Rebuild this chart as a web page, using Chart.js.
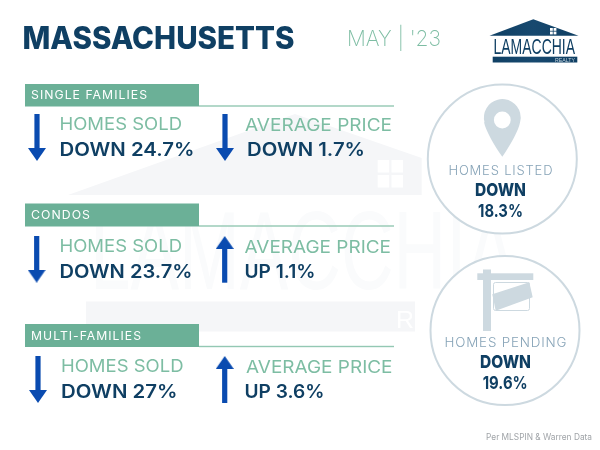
<!DOCTYPE html>
<html><head><meta charset="utf-8">
<style>html,body{margin:0;padding:0;background:#fff;overflow:hidden}canvas{display:block}</style>
<script src="https://cdn.jsdelivr.net/npm/chart.js@4"></script>
</head><body><canvas id="c" width="600" height="450"></canvas>
<script>
// ---- data ----
const title = 'MASSACHUSETTS';
const period = "MAY | '23";
const segments = ['SINGLE FAMILIES', 'CONDOS', 'MULTI-FAMILIES'];
const homesSoldChange = [-24.7, -23.7, -27];
const averagePriceChange = [-1.7, 1.1, 3.6];
const circleLabels = ['HOMES LISTED', 'HOMES PENDING'];
const circleChange = [-18.3, -19.6];
const soldLabel = 'HOMES SOLD';
const priceLabel = 'AVERAGE PRICE';
const sourceNote = 'Per MLSPIN & Warren Data';

// ---- layout (page positions, not data) ----
const NAVY = '#0f3f63', GREEN = '#6bb097', SOFT = '#7dbda3', BLUE = '#0a4bb0', RING = '#cdd9e0', GHOST = '#f5f6f8';
const headerBox = [{t:84,b:106.5},{t:203.5,b:226.5},{t:324,b:347}];
const headerText = [{x:31,w:116,y:99},{x:31,w:59,y:219},{x:31,w:110,y:340}];
const soldArrowX = [37, 36.7, 38], priceArrowX = [225, 224.7, 224.7];
const arrowTop = [114, 236, 356], arrowBot = [161, 282.7, 403];
const soldText = [{x:59.5,w:122.5,y:130},{x:59.5,w:122.5,y:251.7},{x:61,w:122.5,y:371.7}];
const soldVal  = [{x:59.5,w:135,y:156},{x:59.5,w:133,y:277.7},{x:61,w:116.5,y:398.3}];
const priceText= [{x:245,w:147,y:131},{x:244.5,w:146.5,y:252.7},{x:246,w:146.5,y:373.3}];
const priceVal = [{x:247,w:118,y:156},{x:244.5,w:71,y:277.7},{x:244.5,w:80,y:398.3}];
const circles = [{x:502.3,y:159},{x:505,y:330.5}];
const circleTxt = [
  {lab:{x:448.5,w:104,y:175},dir:{x:475,w:51,y:196},val:{x:478,w:45,y:216.7}},
  {lab:{x:444.5,w:122,y:347},dir:{x:480,w:51,y:368.3},val:{x:482.7,w:45,y:389}}
];

function mag(v){ return Math.abs(v) + '%'; }
function dirWord(v){ return v < 0 ? 'DOWN' : 'UP'; }

// arrow head image used as a point style
const head = document.createElement('canvas'); head.width = 18; head.height = 13;
(function(){ const g = head.getContext('2d'); g.fillStyle = BLUE; g.beginPath(); g.moveTo(9,0); g.lineTo(18,13); g.lineTo(0,13); g.closePath(); g.fill(); })();

function arrowDataset(x, v, i){
  const down = v < 0, top = arrowTop[i], bot = arrowBot[i];
  const tipEnd = down ? bot - 6.5 : top + 6.5, tail = down ? top : bot;
  return { type:'line', data:[{x,y:tail},{x,y:tipEnd}], borderColor:BLUE, borderWidth:5.2, borderCapStyle:'butt',
    pointStyle:[false, head], pointRadius:[0,9], pointRotation:[0, down?180:0], clip:false, order:1 };
}
const datasets = [
  { type:'scatter', data:circles, pointStyle:'circle', pointRadius:74.5, pointBackgroundColor:'#fff',
    pointBorderColor:RING, pointBorderWidth:2, clip:false, order:2 }
];
segments.forEach((s,i)=>{
  datasets.push(arrowDataset(soldArrowX[i], homesSoldChange[i], i));
  datasets.push(arrowDataset(priceArrowX[i], averagePriceChange[i], i));
});

function fit(ctx, str, p, font, color, spacing){
  ctx.save(); ctx.font = font; ctx.fillStyle = color; ctx.textBaseline = 'alphabetic'; ctx.textAlign = 'left';
  ctx.letterSpacing = (spacing || 0) + 'px';
  const m = ctx.measureText(str);
  const k = p.w / (m.width - (spacing || 0));
  ctx.translate(p.x, p.y); ctx.scale(k, 1);
  ctx.fillText(str, 0, 0); ctx.restore();
}
function poly(ctx, pts, color){
  ctx.fillStyle = color; ctx.beginPath(); pts.forEach((q,i)=> i?ctx.lineTo(q[0],q[1]):ctx.moveTo(q[0],q[1])); ctx.closePath(); ctx.fill();
}

const page = {
  id:'page',
  beforeDatasetsDraw(chart){
    const ctx = chart.ctx;
    ctx.save();
    // faint watermark
    poly(ctx, [[68,195],[295,114],[421.7,158],[421.7,195]], GHOST);
    ctx.fillStyle = '#fff';
    [[377.7,160],[391.5,160],[377.7,175],[391.5,175]].forEach(q=>ctx.fillRect(q[0],q[1],11.5,12.5));
    fit(ctx, 'LAMACCHIA', {x:90,w:425,y:289}, '400 112px "Liberation Sans Narrow","Liberation Sans"', '#fafbfc');
    ctx.fillStyle = GHOST; ctx.fillRect(86,301.5,329,30);
    fit(ctx, 'R', {x:396,w:18,y:328}, '400 24px "Liberation Sans Narrow","Liberation Sans"', '#fff');
    ctx.restore();
  },
  afterDatasetsDraw(chart){
    const ctx = chart.ctx;
    ctx.save();
    // heading
    fit(ctx, title, {x:22.5,w:272,y:48.5}, '800 31px Inter', NAVY);
    fit(ctx, period, {x:347,w:94,y:45.7}, '200 22px Inter', SOFT);
    // logo
    const grad = ctx.createLinearGradient(489,0,578,0);
    grad.addColorStop(0,NAVY); grad.addColorStop(.5,'#17496f'); grad.addColorStop(1,NAVY);
    poly(ctx, [[489.5,35.7],[533.3,19.3],[578.5,35.7]], grad);
    ctx.fillStyle = '#fff';
    [[550,28],[553.6,28],[550,31.6],[553.6,31.6]].forEach(q=>ctx.fillRect(q[0],q[1],2.8,2.8));
    fit(ctx, 'LAMACCHIA', {x:493.5,w:81.5,y:54}, '400 21.5px "Liberation Sans Narrow","Liberation Sans"', NAVY);
    ctx.fillStyle = grad; ctx.fillRect(492.7,56.7,84.6,5.8);
    fit(ctx, 'REALTY', {x:555,w:20,y:62}, '400 5.5px "Liberation Sans"', '#c4d2dc');
    // section headers and lines
    headerBox.forEach((b,i)=>{
      ctx.fillStyle = GREEN; ctx.fillRect(25,b.t,174,b.b-b.t);
      ctx.fillStyle = '#93c8b3'; ctx.fillRect(199,b.b-1.2,195,1.4);
      fit(ctx, segments[i], headerText[i], '400 12px Inter', '#fff', 1);
    });
    segments.forEach((s,i)=>{
      fit(ctx, soldLabel, soldText[i], '400 17px Inter', SOFT);
      fit(ctx, priceLabel, priceText[i], '400 17px Inter', SOFT);
      fit(ctx, dirWord(homesSoldChange[i])+' '+mag(homesSoldChange[i]), soldVal[i], '600 18.5px Inter', NAVY);
      fit(ctx, dirWord(averagePriceChange[i])+' '+mag(averagePriceChange[i]), priceVal[i], '600 18.5px Inter', NAVY);
    });
    // circles' text
    circleLabels.forEach((l,i)=>{
      const t = circleTxt[i];
      fit(ctx, l, t.lab, '300 13px Inter', '#86a3b7', 0.8);
      fit(ctx, dirWord(circleChange[i]), t.dir, '800 18px Inter', NAVY);
      fit(ctx, mag(circleChange[i]), t.val, '700 18px Inter', NAVY);
    });
    // map pin
    ctx.fillStyle = RING; ctx.beginPath();
    ctx.arc(502.3,117.5,18.4,Math.PI*0.92,Math.PI*0.08,false);
    ctx.bezierCurveTo(519,130,510,146,502.3,156.7);
    ctx.bezierCurveTo(494.5,146,485.5,130,484.1,122.5);
    ctx.closePath(); ctx.fill();
    ctx.fillStyle = '#fff'; ctx.beginPath(); ctx.arc(502.3,120,8.4,0,Math.PI*2); ctx.fill();
    // sign
    ctx.fillStyle = RING; ctx.fillRect(483,269.5,8,61.5); ctx.fillRect(477.3,273.3,56,6.7);
    ctx.strokeStyle = RING; ctx.lineWidth = 1; ctx.beginPath(); ctx.roundRect(493.5,282.5,36,28,2); ctx.stroke();
    poly(ctx, [[492.3,294.3],[529.3,282.3],[532.7,297.3],[495.7,310.7]], RING);
    // source
    fit(ctx, sourceNote, {x:486,w:106,y:440.3}, '400 8.5px Inter', '#a0a4a8');
    ctx.restore();
  }
};

new Chart(document.getElementById('c'), {
  type:'scatter',
  data:{ datasets },
  options:{
    responsive:false, animation:false, events:[],
    layout:{padding:0, autoPadding:false},
    plugins:{legend:{display:false},tooltip:{enabled:false},title:{display:false}},
    scales:{
      x:{type:'linear',min:0,max:600,display:false},
      y:{type:'linear',min:0,max:450,reverse:true,display:false}
    }
  },
  plugins:[page]
});
</script></body></html>
